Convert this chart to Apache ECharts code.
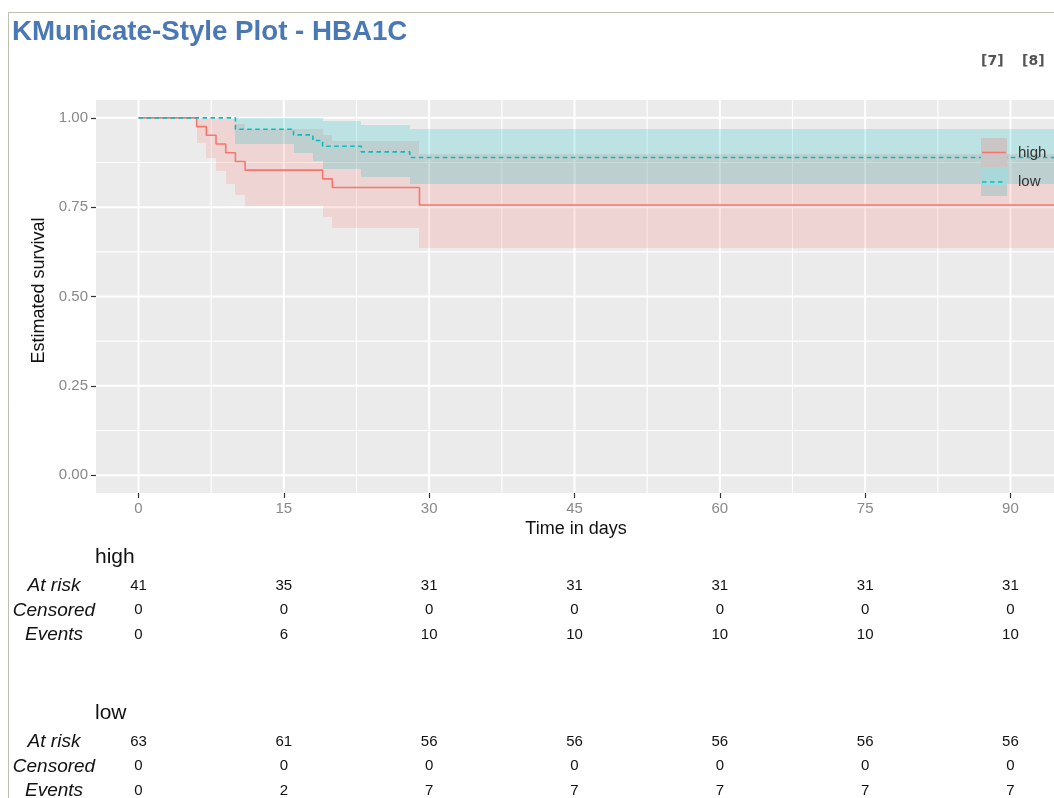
<!DOCTYPE html>
<html>
<head>
<meta charset="utf-8">
<script src="https://cdn.jsdelivr.net/npm/echarts@6/dist/echarts.min.js"></script>
<style>
html,body{margin:0;padding:0;background:#fff;}
#chart{width:1054px;height:798px;}
</style>
</head>
<body>
<div id="chart"></div>
<script>
// ---------- data ----------
const timeTicks = [0, 15, 30, 45, 60, 75, 90];
const xMinorTicks = [7.5, 22.5, 37.5, 52.5, 67.5, 82.5];
const survTicks = [0, 0.25, 0.5, 0.75, 1];
const survMinorTicks = [0.125, 0.375, 0.625, 0.875];
const followUpEnd = 100;

const highTimes = [0, 6, 7, 8, 9, 10, 11, 19, 20, 29];
const highSurv  = [1, 0.9756, 0.9512, 0.9268, 0.9024, 0.8780, 0.8537, 0.8293, 0.8049, 0.7561];
const highLower = [1, 0.929, 0.888, 0.851, 0.816, 0.783, 0.752, 0.722, 0.692, 0.635];
const highUpper = [1, 1, 1, 1, 0.998, 0.984, 0.969, 0.953, 0.936, 0.900];

const lowTimes = [0, 10, 16, 18, 19, 23, 28];
const lowSurv  = [1, 0.9683, 0.9524, 0.9365, 0.9206, 0.9048, 0.8889];
const lowLower = [1, 0.926, 0.901, 0.878, 0.856, 0.835, 0.815];
const lowUpper = [1, 1, 1, 0.999, 0.990, 0.980, 0.970];

const tableRows = ['At risk', 'Censored', 'Events'];
const highAtRisk   = [41, 35, 31, 31, 31, 31, 31];
const highCensored = [0, 0, 0, 0, 0, 0, 0];
const highEvents   = [0, 6, 10, 10, 10, 10, 10];
const lowAtRisk    = [63, 61, 56, 56, 56, 56, 56];
const lowCensored  = [0, 0, 0, 0, 0, 0, 0];
const lowEvents    = [0, 2, 7, 7, 7, 7, 7];

// ---------- helpers ----------
const RED = '#F8766D', TEAL = '#00BFC4';
const FONT = '"Liberation Sans", Arial, Helvetica, sans-serif';
function pts(times, vals) {
  const d = times.map((t, i) => [t, vals[i]]);
  d.push([followUpEnd, vals[vals.length - 1]]);
  return d;
}
function intervals(times, lo, hi) {
  return times.map((t, i) => [t, i + 1 < times.length ? times[i + 1] : followUpEnd, lo[i], hi[i]]);
}
function tableData(a, b, c) {
  const out = [];
  timeTicks.forEach((t, i) => { out.push([t, 0, a[i]]); out.push([t, 1, b[i]]); out.push([t, 2, c[i]]); });
  return out;
}
const gridLineData = [];
timeTicks.forEach(v => gridLineData.push([v, 0, 1]));
xMinorTicks.forEach(v => gridLineData.push([v, 0, 0]));
survTicks.forEach(v => gridLineData.push([v, 1, 1]));
survMinorTicks.forEach(v => gridLineData.push([v, 1, 0]));

const XMIN = -4.39, XMAX = 94.7;

const chart = echarts.init(document.getElementById('chart'), null, {renderer: 'canvas'});

function bandSeries(name, times, lo, hi, color) {
  return {
    type: 'custom', name: name + ' 95% CI', xAxisIndex: 0, yAxisIndex: 0, silent: true, clip: true,
    data: intervals(times, lo, hi),
    renderItem: function (params, api) {
      const cs = params.coordSys;
      const a = api.coord([api.value(0), api.value(3)]);
      const b = api.coord([api.value(1), api.value(2)]);
      const x0 = Math.round(Math.max(a[0], cs.x));
      const x1 = Math.round(Math.min(b[0], cs.x + cs.width));
      const y0 = Math.round(a[1]);
      const y1 = Math.round(b[1]);
      if (x1 <= x0 || y1 <= y0) return null;
      return {type: 'rect', shape: {x: x0, y: y0, width: x1 - x0, height: y1 - y0},
              style: {fill: color}};
    }
  };
}

function tableSeries(idx, data) {
  return {
    type: 'custom', xAxisIndex: idx, yAxisIndex: idx, data: data, silent: true,
    renderItem: function (params, api) {
      const p = api.coord([api.value(0), api.value(1)]);
      return {type: 'text', x: p[0], y: p[1],
        style: {text: String(api.value(2)), fontSize: 15, fontFamily: FONT, fill: '#111',
                align: 'center', verticalAlign: 'middle'}};
    }
  };
}

const tableYAxis = (idx) => ({
  type: 'category', gridIndex: idx, data: tableRows, inverse: true, boundaryGap: false,
  axisLine: {show: false}, axisTick: {show: false}, splitLine: {show: false},
  axisLabel: {interval: 0, hideOverlap: false, fontStyle: 'italic', fontSize: 19, fontFamily: FONT,
              color: '#111', align: 'center', margin: 42}
});
const tableXAxis = (idx) => ({
  type: 'value', gridIndex: idx, min: XMIN, max: XMAX, show: false
});

const option = {
  animation: false,
  backgroundColor: '#ffffff',
  title: {
    text: 'KMunicate-Style Plot - HBA1C', left: 12, top: 18, padding: 0,
    textStyle: {fontSize: 27.7, fontWeight: 'bold', color: '#4a78b4', fontFamily: FONT}
  },
  grid: [
    {left: 96, top: 100, width: 960, height: 393, show: true, backgroundColor: '#ebebeb', borderWidth: 0,
     outerBoundsMode: 'none', containLabel: false},
    {left: 96, top: 585.5, width: 960, height: 49.5, outerBoundsMode: 'none', containLabel: false},
    {left: 96, top: 741.5, width: 960, height: 49.5, outerBoundsMode: 'none', containLabel: false}
  ],
  xAxis: [
    {type: 'value', gridIndex: 0, min: XMIN, max: XMAX,
     name: 'Time in days', nameLocation: 'middle', nameGap: 27,
     nameTextStyle: {fontSize: 18, color: '#111', fontFamily: FONT},
     axisLine: {show: false, onZero: false},
     axisTick: {show: true, customValues: timeTicks, length: 5, lineStyle: {color: '#333', width: 1.2}},
     axisLabel: {customValues: timeTicks, color: '#888', fontSize: 15, fontFamily: FONT, margin: 8},
     splitLine: {show: false}},
    tableXAxis(1), tableXAxis(2)
  ],
  yAxis: [
    {type: 'value', gridIndex: 0, min: -0.05, max: 1.05,
     name: 'Estimated survival', nameLocation: 'middle', nameGap: 48,
     nameTextStyle: {fontSize: 18, color: '#111', fontFamily: FONT, padding: [0, 0, 0, 12]},
     axisLine: {show: false, onZero: false},
     axisTick: {show: true, customValues: survTicks, length: 5, lineStyle: {color: '#333', width: 1.2}},
     axisLabel: {customValues: survTicks, color: '#888', fontSize: 15, fontFamily: FONT, margin: 8,
                 formatter: v => v.toFixed(2)},
     splitLine: {show: false}},
    tableYAxis(1), tableYAxis(2)
  ],
  series: [
    {type: 'custom', name: 'gridlines', xAxisIndex: 0, yAxisIndex: 0, data: gridLineData, silent: true,
     renderItem: function (params, api) {
       const cs = params.coordSys;
       const v = api.value(0), dir = api.value(1), major = api.value(2);
       let shape;
       if (dir === 0) {
         const x = api.coord([v, 0])[0];
         shape = {x1: x, y1: cs.y, x2: x, y2: cs.y + cs.height};
       } else {
         const y = api.coord([0, v])[1];
         shape = {x1: cs.x, y1: y, x2: cs.x + cs.width, y2: y};
       }
       return {type: 'line', shape: shape,
               style: {stroke: '#ffffff', lineWidth: major ? 2 : 1.1}};
     }},
    bandSeries('high', highTimes, highLower, highUpper, 'rgba(248,118,109,0.2)'),
    bandSeries('low', lowTimes, lowLower, lowUpper, 'rgba(0,191,196,0.2)'),
    {type: 'line', name: 'high', step: 'end', data: pts(highTimes, highSurv), symbol: 'none',
     lineStyle: {color: RED, width: 1.6}, xAxisIndex: 0, yAxisIndex: 0},
    {type: 'line', name: 'low', step: 'end', data: pts(lowTimes, lowSurv), symbol: 'none',
     lineStyle: {color: TEAL, width: 1.6, type: [4.5, 3.5]}, xAxisIndex: 0, yAxisIndex: 0},
    tableSeries(1, tableData(highAtRisk, highCensored, highEvents)),
    tableSeries(2, tableData(lowAtRisk, lowCensored, lowEvents))
  ],
  graphic: [
    {type: 'line', shape: {x1: 8.5, y1: 12.5, x2: 1054, y2: 12.5}, style: {stroke: '#bdbdb0', lineWidth: 1}},
    {type: 'line', shape: {x1: 8.5, y1: 12.5, x2: 8.5, y2: 798}, style: {stroke: '#bdbdb0', lineWidth: 1}},
    {type: 'text', x: 981, y: 61, style: {text: '[7]', font: 'bold 14px "DejaVu Sans"', fill: '#555', verticalAlign: 'middle'}},
    {type: 'text', x: 1022, y: 61, style: {text: '[8]', font: 'bold 14px "DejaVu Sans"', fill: '#555', verticalAlign: 'middle'}},
    // legend
    {type: 'rect', shape: {x: 981, y: 138, width: 26, height: 29}, style: {fill: '#cbc6c6'}, z: 10},
    {type: 'rect', shape: {x: 981, y: 167, width: 26, height: 18}, style: {fill: '#a9d8da'}, z: 10},
    {type: 'rect', shape: {x: 981, y: 185, width: 26, height: 11}, style: {fill: '#c3caca'}, z: 10},
    {type: 'line', shape: {x1: 982, y1: 152.5, x2: 1006, y2: 152.5}, style: {stroke: RED, lineWidth: 1.6}, z: 11},
    {type: 'line', shape: {x1: 982, y1: 182, x2: 1006, y2: 182}, style: {stroke: TEAL, lineWidth: 1.6, lineDash: [4.5, 3.5]}, z: 11},
    {type: 'text', x: 1018, y: 153, style: {text: 'high', fontSize: 15, fontFamily: FONT, fill: '#333', verticalAlign: 'middle'}, z: 11},
    {type: 'text', x: 1018, y: 182, style: {text: 'low', fontSize: 15, fontFamily: FONT, fill: '#333', verticalAlign: 'middle'}, z: 11},
    // table group labels
    {type: 'text', x: 95, y: 557, style: {text: 'high', fontSize: 21, fontFamily: FONT, fill: '#111', verticalAlign: 'middle'}},
    {type: 'text', x: 95, y: 713, style: {text: 'low', fontSize: 21, fontFamily: FONT, fill: '#111', verticalAlign: 'middle'}}
  ]
};
chart.setOption(option);
</script>
</body>
</html>
